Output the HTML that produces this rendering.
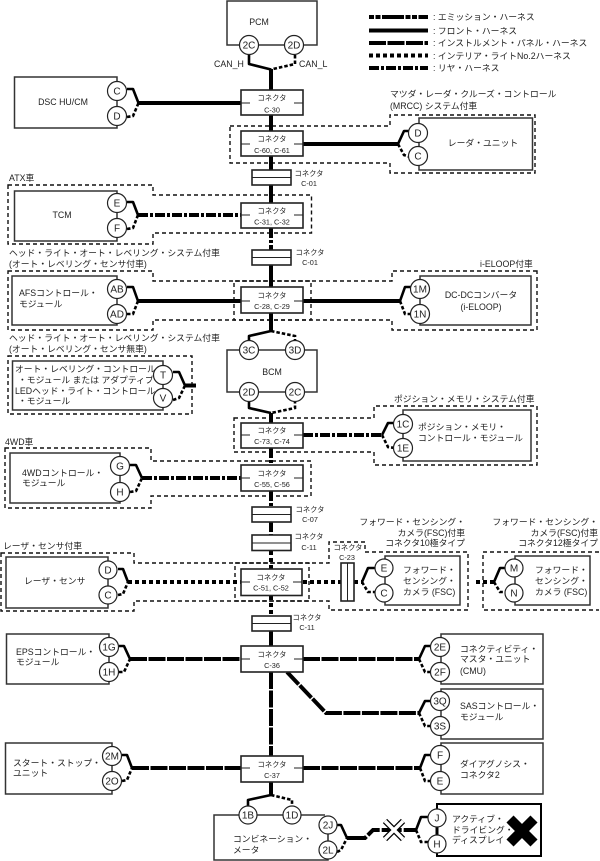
<!DOCTYPE html>
<html lang="ja"><head><meta charset="utf-8"><title>Diagram</title>
<style>
html,body{margin:0;padding:0;background:#fff}
svg{display:block}
text{font-family:"Liberation Sans","Noto Sans CJK JP",sans-serif;font-size:8.8px;fill:#222}
.k{font-size:7.3px;text-anchor:middle}
.c{font-size:10px;text-anchor:middle}
.m{text-anchor:middle}
.e{text-anchor:end}
.d{fill:none;stroke:#111;stroke-width:1.4;stroke-dasharray:4 3}
.b{fill:#fff;stroke:#333;stroke-width:1.5}
.cb{fill:#fff;stroke:#222;stroke-width:1.6}
.t{fill:none;stroke:#222;stroke-width:1}
.o{fill:#fff;stroke:#222;stroke-width:1.2}
.w{fill:none;stroke:#000;stroke-width:4}
.W1{stroke-dasharray:5 1.5 5 1.5 22 1.5}
.W3{stroke-dasharray:17 1.5}
.W4{stroke-dasharray:4 3}
.W5{stroke-dasharray:10 2 3 2}
.s{fill:none;stroke:#000;stroke-width:2.6;stroke-linejoin:round}
.q{fill:none;stroke:#000;stroke-width:2.6;stroke-dasharray:3.5 2}
</style></head><body>
<svg width="600" height="861" viewBox="0 0 600 861" xmlns="http://www.w3.org/2000/svg">
<!-- dashed groups -->
<path class="d" d="M230 126H390V115H535V173H390V163H230Z"/>
<path class="d" d="M8 185H153V195H311.5V233H153V244H8Z"/>
<path class="d" d="M8 271H153V281H311V320H153V330H8Z"/>
<path class="d" d="M537 271H392V281H234V320H392V330H537Z"/>
<path class="d" d="M8 356H192V414H8Z"/>
<path class="d" d="M234 418H374V406H537V465H374V452H234Z"/>
<path class="d" d="M5 448H151V461H311V496H151V508H5Z"/>
<path class="d" d="M1 553H134V563H309V601H134V611H1Z"/>
<path class="d" d="M235 563H329V542H365V552H468V610H329V601H235Z"/>
<path class="d" d="M599 552H483V610H599"/>

<!-- module boxes -->
<rect class="b" x="227" y="1" width="90" height="44"/>
<rect class="b" x="14.5" y="77" width="102.5" height="51"/>
<rect class="b" x="419" y="118" width="113.5" height="52"/>
<rect class="b" x="14.5" y="191" width="102.5" height="50"/>
<rect class="b" x="12" y="276" width="105" height="49"/>
<rect class="b" x="420" y="276" width="111" height="49"/>
<rect class="b" x="12.5" y="361" width="150.5" height="49"/>
<rect class="b" x="227" y="350" width="90" height="42"/>
<rect class="b" x="403" y="410" width="128" height="51"/>
<rect class="b" x="10" y="453" width="110" height="50"/>
<rect class="b" x="6" y="557" width="102" height="51"/>
<rect class="b" x="385" y="556" width="75" height="49"/>
<rect class="b" x="515" y="556" width="75" height="49"/>
<rect class="b" x="6.5" y="634" width="102.5" height="50"/>
<rect class="b" x="441" y="634" width="102" height="50"/>
<rect class="b" x="441" y="689" width="102" height="50"/>
<rect class="b" x="5.5" y="743" width="106.5" height="51"/>
<rect class="b" x="441" y="743" width="102" height="51"/>
<path class="b" fill="none" d="M325 815H214V860H328V825" style="fill:#fff"/>
<path class="t" d="M328 825V850" stroke-width="1.2"/>
<rect x="437" y="804" width="104" height="52" fill="#fff" stroke="#000" stroke-width="2"/>
<path d="M437 818V844" stroke="#000" stroke-width="3"/>

<!-- trunk wires -->
<path class="w" d="M271 69V90"/>
<path class="w" d="M271 115V131"/>
<path class="w" d="M271 156V170"/>
<path class="w" d="M271 185V203"/>
<path class="w W5" d="M271 228V250"/>
<path class="w" d="M271 265V287"/>
<path class="w" d="M271 313V331"/>
<path class="w" d="M271 413V423"/>
<path class="w W5" d="M271 448V465"/>
<path class="w W5" d="M271 491V507"/>
<path class="w W5" d="M271 522V535"/>
<path class="w W4" d="M271 551V569"/>
<path class="w W4" d="M271 596V616"/>
<path class="w" d="M271 631V646"/>
<path class="w W3" d="M271 672V756"/>
<path class="w" d="M271 782V795"/>

<!-- horizontal wires -->
<path class="w" d="M138 103H241"/>
<path class="w" d="M303 144H398"/>
<path class="w W5" d="M138 215H241"/>
<path class="w" d="M138 301H241"/>
<path class="w" d="M303 301H400"/>
<path class="w" d="M185 385.5H196"/>
<path class="w W5" d="M303 435H382"/>
<path class="w W5" d="M142 478H241"/>
<path class="w W4" d="M128 582H241"/>
<path class="w W4" d="M303 582H341"/>
<path class="w W4" d="M354 582H362"/>
<path class="w W4" d="M476 582H494"/>
<path class="w W3" d="M130 659H241"/>
<path class="w W3" d="M303 659H419"/>
<path class="w W3" d="M287 672L326 713H419"/>
<path class="w W3" d="M132 768H241"/>
<path class="w W3" d="M303 768H420"/>
<path class="w" d="M347 838H365L373 830H416" stroke-dasharray="20 2 14 2"/>

<!-- branch wires -->
<path class="s" d="M249 55V64L271 69.5"/><path class="q" d="M295 55V64L271 69.5"/>
<path class="s" d="M127 89H133L138.5 103"/><path class="q" d="M127 117L133 116L138.5 103"/>
<path class="s" d="M398 144L404 131H410"/><path class="q" d="M398 144L404 155L410 157"/>
<path class="s" d="M127 202H133L138 215"/><path class="q" d="M127 229L133 228L138 215"/>
<path class="s" d="M127 287H133L138 301"/><path class="q" d="M127 314H133L138 301"/>
<path class="s" d="M400 301L405 287H412"/><path class="q" d="M400 301L405 314H411"/>
<path class="s" d="M271 331L249 336V342"/><path class="q" d="M271 331L295 336V342"/>
<path class="s" d="M249 400V408L271 413"/><path class="q" d="M295 400V408L271 413"/>
<path class="s" d="M173 372H179L185 385.5"/><path class="q" d="M173 400L179 398L185 385.5"/>
<path class="s" d="M382 435L388 423H395"/><path class="q" d="M382 435L388 447L395 448"/>
<path class="s" d="M130 465H136L142 478"/><path class="q" d="M130 492L136 491L142 478"/>
<path class="s" d="M118 569H123L128 582"/><path class="q" d="M118 595L123 594L128 582"/>
<path class="s" d="M362 582L368 568H376"/><path class="q" d="M362 582L368 592H376"/>
<path class="s" d="M494 582L500 568H507"/><path class="q" d="M494 582L500 592H507"/>
<path class="s" d="M119 646H124L130 659"/><path class="q" d="M119 672H124L130 659"/>
<path class="s" d="M419 659L425 646H432"/><path class="q" d="M419 659L425 672H432"/>
<path class="s" d="M419 713L425 701H432"/><path class="q" d="M419 713L425 726H432"/>
<path class="s" d="M122 755H127L132 768"/><path class="q" d="M122 781L127 780L132 768"/>
<path class="s" d="M420 768L425 755H432"/><path class="q" d="M420 768L425 781H432"/>
<path class="s" d="M271 795L248 800V806"/><path class="q" d="M271 795L292 800V806"/>
<path class="s" d="M337 825H341L347 838"/><path class="q" d="M337 852L341 850L347 838"/>
<path class="s" d="M416 830L421 817H429"/><path class="q" d="M416 830L421 842H429"/>

<!-- main connectors -->
<g>
<rect class="cb" x="241" y="90" width="62" height="25"/><path class="t" d="M241 103H250M294 103H303"/>
<rect class="cb" x="241" y="131" width="62" height="25"/><path class="t" d="M241 144H250M294 144H303"/>
<rect class="cb" x="241" y="203" width="62" height="25"/><path class="t" d="M241 215H250M294 215H303"/>
<rect class="cb" x="241" y="287" width="62" height="26"/><path class="t" d="M241 301H250M294 301H303"/>
<rect class="cb" x="241" y="423" width="62" height="25"/><path class="t" d="M241 435H250M294 435H303"/>
<rect class="cb" x="241" y="465" width="62" height="26"/><path class="t" d="M241 478H250M294 478H303"/>
<rect class="cb" x="241" y="569" width="61" height="26.5"/><path class="t" d="M241 582H250M293 582H302"/>
<rect class="cb" x="241" y="646" width="62" height="26"/><path class="t" d="M241 659H250M294 659H303"/>
<rect class="cb" x="241" y="756" width="62" height="26"/><path class="t" d="M241 768H250M294 768H303"/>
<!-- flat connectors -->
<rect class="cb" x="252" y="170" width="39" height="15"/><path class="t" d="M252 177.5H291" stroke-width="1.4"/>
<rect class="cb" x="252" y="250" width="39" height="15"/><path class="t" d="M252 257.5H291" stroke-width="1.4"/>
<rect class="cb" x="252" y="507" width="39" height="15"/><path class="t" d="M252 514.5H291" stroke-width="1.4"/>
<rect class="cb" x="252" y="535" width="39" height="15.5"/><path class="t" d="M252 543H291" stroke-width="1.4"/>
<rect class="cb" x="252" y="616" width="39" height="15"/><path class="t" d="M252 623.5H291" stroke-width="1.4"/>
<rect class="cb" x="341" y="563" width="13" height="38"/><path class="t" d="M347.5 563V601" stroke-width="1.4"/>
</g>

<!-- pins -->
<g>
<circle class="o" cx="249" cy="45" r="9.5"/><circle class="o" cx="294" cy="45" r="9.5"/>
<circle class="o" cx="117" cy="91" r="9.5"/><circle class="o" cx="117" cy="116" r="9.5"/>
<circle class="o" cx="418" cy="133" r="9.5"/><circle class="o" cx="418" cy="156" r="9.5"/>
<circle class="o" cx="117" cy="203" r="9.5"/><circle class="o" cx="117" cy="228" r="9.5"/>
<circle class="o" cx="117" cy="289" r="9.5"/><circle class="o" cx="117" cy="314" r="9.5"/>
<circle class="o" cx="420" cy="289" r="9.5"/><circle class="o" cx="420" cy="314" r="9.5"/>
<circle class="o" cx="163" cy="375" r="9.5"/><circle class="o" cx="163" cy="398" r="9.5"/>
<circle class="o" cx="249" cy="350" r="9.5"/><circle class="o" cx="295" cy="350" r="9.5"/>
<circle class="o" cx="249" cy="392" r="9.5"/><circle class="o" cx="295" cy="392" r="9.5"/>
<circle class="o" cx="403" cy="424" r="9.5"/><circle class="o" cx="403" cy="448" r="9.5"/>
<circle class="o" cx="120" cy="466" r="9.5"/><circle class="o" cx="120" cy="492" r="9.5"/>
<circle class="o" cx="108" cy="570" r="9"/><circle class="o" cx="108" cy="595" r="9"/>
<circle class="o" cx="384" cy="568" r="9"/><circle class="o" cx="384" cy="593" r="9"/>
<circle class="o" cx="514" cy="568" r="9"/><circle class="o" cx="514" cy="593" r="9"/>
<circle class="o" cx="109" cy="647" r="9.5"/><circle class="o" cx="109" cy="672" r="9.5"/>
<circle class="o" cx="440" cy="647" r="9.5"/><circle class="o" cx="440" cy="672" r="9.5"/>
<circle class="o" cx="440" cy="701" r="9.5"/><circle class="o" cx="440" cy="726" r="9.5"/>
<circle class="o" cx="112" cy="756" r="9.5"/><circle class="o" cx="112" cy="781" r="9.5"/>
<circle class="o" cx="440" cy="755" r="9.5"/><circle class="o" cx="440" cy="781" r="9.5"/>
<circle class="o" cx="248" cy="815" r="9"/><circle class="o" cx="292" cy="815" r="9"/>
<circle class="o" cx="328" cy="825" r="9"/><circle class="o" cx="328" cy="850" r="9"/>
<circle class="o" cx="437" cy="818" r="9"/><circle class="o" cx="437" cy="844" r="9"/>
</g>

<!-- X marks -->
<path d="M385 821L403 839M403 821L385 839" stroke="#000" stroke-width="6" fill="none"/>
<path d="M385 821L403 839M403 821L385 839" stroke="#fff" stroke-width="3.5" fill="none"/>
<path d="M510 819L534 843M534 819L510 843" stroke="#000" stroke-width="10" fill="none"/>

<!-- pin labels -->
<g class="pins">
<text class="c" x="249" y="48.5">2C</text><text class="c" x="294" y="48.5">2D</text>
<text class="c" x="117" y="94.5">C</text><text class="c" x="117" y="119.5">D</text>
<text class="c" x="418" y="136.5">D</text><text class="c" x="418" y="159.5">C</text>
<text class="c" x="117" y="206.5">E</text><text class="c" x="117" y="231.5">F</text>
<text class="c" x="117" y="292.5">AB</text><text class="c" x="117" y="317.5">AD</text>
<text class="c" x="420" y="292.5">1M</text><text class="c" x="420" y="317.5">1N</text>
<text class="c" x="163" y="378.5">T</text><text class="c" x="163" y="401.5">V</text>
<text class="c" x="249" y="353.5">3C</text><text class="c" x="295" y="353.5">3D</text>
<text class="c" x="249" y="395.5">2D</text><text class="c" x="295" y="395.5">2C</text>
<text class="c" x="403" y="427.5">1C</text><text class="c" x="403" y="451.5">1E</text>
<text class="c" x="120" y="469.5">G</text><text class="c" x="120" y="495.5">H</text>
<text class="c" x="108" y="573.5">D</text><text class="c" x="108" y="598.5">C</text>
<text class="c" x="384" y="571.5">E</text><text class="c" x="384" y="596.5">C</text>
<text class="c" x="514" y="571.5">M</text><text class="c" x="514" y="596.5">N</text>
<text class="c" x="109" y="650.5">1G</text><text class="c" x="109" y="675.5">1H</text>
<text class="c" x="440" y="650.5">2E</text><text class="c" x="440" y="675.5">2F</text>
<text class="c" x="440" y="704.5">3Q</text><text class="c" x="440" y="729.5">3S</text>
<text class="c" x="112" y="759.5">2M</text><text class="c" x="112" y="784.5">2O</text>
<text class="c" x="440" y="758.5">F</text><text class="c" x="440" y="784.5">E</text>
<text class="c" x="248" y="818.5">1B</text><text class="c" x="292" y="818.5">1D</text>
<text class="c" x="328" y="828.5">2J</text><text class="c" x="328" y="853.5">2L</text>
<text class="c" x="437" y="821.5">J</text><text class="c" x="437" y="847.5">H</text>
</g>

<!-- connector labels -->
<text class="k" x="272" y="100.5">コネクタ</text><text class="k" x="272" y="112.5">C-30</text>
<text class="k" x="272" y="141.5">コネクタ</text><text class="k" x="272" y="153">C-60, C-61</text>
<text class="k" x="272" y="213.5">コネクタ</text><text class="k" x="272" y="224.5">C-31, C-32</text>
<text class="k" x="272" y="298">コネクタ</text><text class="k" x="272" y="309">C-28, C-29</text>
<text class="k" x="272" y="433">コネクタ</text><text class="k" x="272" y="444">C-73, C-74</text>
<text class="k" x="272" y="476">コネクタ</text><text class="k" x="272" y="487">C-55, C-56</text>
<text class="k" x="271" y="580">コネクタ</text><text class="k" x="271" y="590.5">C-51, C-52</text>
<text class="k" x="272" y="657">コネクタ</text><text class="k" x="272" y="668">C-36</text>
<text class="k" x="272" y="767">コネクタ</text><text class="k" x="272" y="778">C-37</text>
<text class="k" x="309" y="176">コネクタ</text><text class="k" x="309" y="186">C-01</text>
<text class="k" x="310" y="255">コネクタ</text><text class="k" x="310" y="265">C-01</text>
<text class="k" x="310" y="512">コネクタ</text><text class="k" x="310" y="522">C-07</text>
<text class="k" x="309" y="539">コネクタ</text><text class="k" x="309" y="550">C-11</text>
<text class="k" x="307" y="620">コネクタ</text><text class="k" x="307" y="630">C-11</text>
<text class="k" x="348" y="550">コネクタ</text><text class="k" x="347" y="560">C-23</text>

<!-- module labels -->
<text class="m" x="259" y="25">PCM</text>
<text x="214" y="67">CAN_H</text><text x="299" y="67">CAN_L</text>
<text class="m" x="63" y="105">DSC HU/CM</text>
<text class="m" x="483" y="146">レーダ・ユニット</text>
<text class="m" x="62" y="218">TCM</text>
<text x="19" y="296">AFSコントロール・</text><text x="19" y="307">モジュール</text>
<text class="m" x="481" y="298">DC-DCコンバータ</text><text class="m" x="481" y="310">(i-ELOOP)</text>
<text class="m" x="272" y="375">BCM</text>
<text x="15" y="372">オート・レベリング・コントロール</text>
<text x="18" y="383">・モジュール または アダプティブ</text>
<text x="15" y="394">LEDヘッド・ライト・コントロール</text>
<text x="18" y="404">・モジュール</text>
<text x="418" y="430">ポジション・メモリ・</text><text x="418" y="441">コントロール・モジュール</text>
<text x="22" y="476">4WDコントロール・</text><text x="22" y="486">モジュール</text>
<text x="24" y="584">レーザ・センサ</text>
<text x="403" y="573">フォワード・</text><text x="403" y="584">センシング・</text><text x="403" y="595">カメラ (FSC)</text>
<text x="535" y="573">フォワード・</text><text x="535" y="584">センシング・</text><text x="535" y="595">カメラ (FSC)</text>
<text x="16" y="655">EPSコントロール・</text><text x="16" y="665">モジュール</text>
<text x="460" y="652">コネクティビティ・</text><text x="460" y="662">マスタ・ユニット</text><text x="460" y="674">(CMU)</text>
<text x="460" y="709">SASコントロール・</text><text x="460" y="720">モジュール</text>
<text x="13" y="766">スタート・ストップ・</text><text x="13" y="776">ユニット</text>
<text x="460" y="767">ダイアグノシス・</text><text x="460" y="778">コネクタ2</text>
<text x="233" y="842">コンビネーション・</text><text x="233" y="853">メータ</text>
<text x="452" y="822">アクティブ・</text><text x="452" y="833">ドライビング・</text><text x="452" y="843">ディスプレイ</text>

<!-- condition labels -->
<text x="390" y="97">マツダ・レーダ・クルーズ・コントロール</text>
<text x="390" y="109">(MRCC) システム付車</text>
<text x="9" y="181">ATX車</text>
<text x="9" y="256">ヘッド・ライト・オート・レベリング・システム付車</text>
<text x="9" y="267">(オート・レベリング・センサ付車)</text>
<text x="480" y="267">i-ELOOP付車</text>
<text x="9" y="341">ヘッド・ライト・オート・レベリング・システム付車</text>
<text x="9" y="352">(オート・レベリング・センサ無車)</text>
<text x="394" y="402">ポジション・メモリ・システム付車</text>
<text x="5" y="445">4WD車</text>
<text x="3" y="549">レーザ・センサ付車</text>
<text class="e" x="465" y="525">フォワード・センシング・</text>
<text class="e" x="465" y="536">カメラ(FSC)付車</text>
<text class="e" x="465" y="546">コネクタ10極タイプ</text>
<text class="e" x="598" y="525">フォワード・センシング・</text>
<text class="e" x="598" y="536">カメラ(FSC)付車</text>
<text class="e" x="598" y="546">コネクタ12極タイプ</text>

<!-- legend -->
<path class="w W1" d="M369 17H428"/>
<path class="w" d="M369 30.5H428"/>
<path class="w W3" d="M369 43H428"/>
<path class="w W4" d="M369 55.5H428"/>
<path class="w W5" d="M369 68H428"/>
<text x="433" y="20">: エミッション・ハーネス</text>
<text x="433" y="34">: フロント・ハーネス</text>
<text x="433" y="46">: インストルメント・パネル・ハーネス</text>
<text x="433" y="59">: インテリア・ライトNo.2ハーネス</text>
<text x="433" y="71">: リヤ・ハーネス</text>
</svg>
</body></html>
